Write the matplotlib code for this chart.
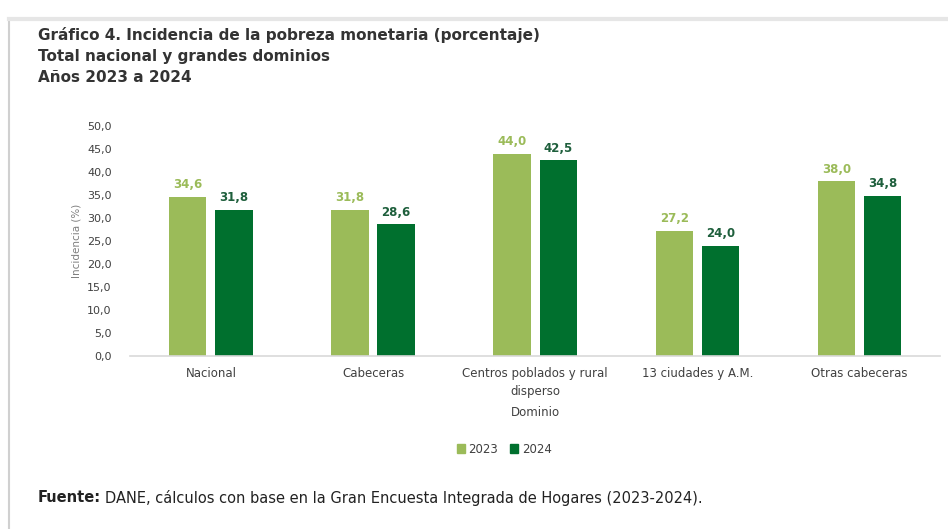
import numpy as np
import matplotlib
matplotlib.use("Agg")
import matplotlib.pyplot as plt
from matplotlib.lines import Line2D
from matplotlib.patches import Patch

dominios = ["Nacional", "Cabeceras", "Centros poblados y rural\ndisperso",
            "13 ciudades y A.M.", "Otras cabeceras"]
v2023 = [34.6, 31.8, 44.0, 27.2, 38.0]
v2024 = [31.8, 28.6, 42.5, 24.0, 34.8]
yticks = np.arange(0, 51, 5)

c23 = "#9BBB59"
c24 = "#00702E"
txt = "#404040"

plt.rcParams["font.family"] = ["DejaVu Sans"]

fig = plt.figure(figsize=(9.48, 5.29), dpi=100)
ax = fig.add_axes([0.137, 0.327, 0.855, 0.435])

x = np.arange(len(dominios))
w = 0.23
gap = 0.055
b1 = ax.bar(x - (w + gap) / 2, v2023, w, color=c23, label="2023")
b2 = ax.bar(x + (w + gap) / 2, v2024, w, color=c24, label="2024")

for r, v in zip(b1, v2023):
    ax.text(r.get_x() + r.get_width() / 2, v + 1.2, f"{v:.1f}".replace(".", ","),
            ha="center", va="bottom", fontsize=8.5, fontweight="bold", color=c23)
for r, v in zip(b2, v2024):
    ax.text(r.get_x() + r.get_width() / 2, v + 1.2, f"{v:.1f}".replace(".", ","),
            ha="center", va="bottom", fontsize=8.5, fontweight="bold", color="#1E5F3C")

ax.set_xlim(-0.5, len(dominios) - 0.5)
ax.set_ylim(0, 50)
ax.set_yticks(yticks)
ax.set_yticklabels([f"{t:.1f}".replace(".", ",") for t in yticks], fontsize=8, color=txt)
ax.set_xticks(x)
ax.set_xticklabels(dominios, fontsize=8.5, color=txt, linespacing=1.45)
ax.tick_params(axis="x", length=0, pad=8)
ax.tick_params(axis="y", length=0, pad=13)
for s in ["top", "right", "left"]:
    ax.spines[s].set_visible(False)
ax.spines["bottom"].set_color("#D9D9D9")
ax.spines["bottom"].set_linewidth(1.2)
ax.set_ylabel("Incidencia (%)", fontsize=7.5, color="#7F7F7F", labelpad=4)
ax.set_xlabel("Dominio", fontsize=8.5, color=txt, labelpad=6)

leg = fig.legend(handles=[Patch(color=c23, label="2023"), Patch(color=c24, label="2024")],
                 loc="center", bbox_to_anchor=(0.532, 0.151), ncol=2, frameon=False,
                 fontsize=8.5, handlelength=0.7, handleheight=0.7, handletextpad=0.3,
                 columnspacing=1.0)
for t in leg.get_texts():
    t.set_color(txt)

fig.text(0.040, 0.934, "Gráfico 4. Incidencia de la pobreza monetaria (porcentaje)",
         fontsize=11, fontweight="bold", color="#333333", va="center")
fig.text(0.040, 0.894, "Total nacional y grandes dominios",
         fontsize=11, fontweight="bold", color="#333333", va="center")
fig.text(0.040, 0.853, "Años 2023 a 2024",
         fontsize=11, fontweight="bold", color="#333333", va="center")

ft = fig.text(0.040, 0.059, "Fuente:", fontsize=10.5, fontweight="bold", color="#222222", va="center")
fig.canvas.draw()
bb = ft.get_window_extent()
fig.text(bb.x1 / fig.bbox.width + 0.004, 0.059,
         "DANE, cálculos con base en la Gran Encuesta Integrada de Hogares (2023-2024).",
         fontsize=10.5, color="#222222", va="center")

# card border
fig.add_artist(Line2D([0.009, 0.009], [0.0, 0.965], color="#D0D0D0", lw=1.5))
fig.add_artist(Line2D([0.009, 1.0], [0.965, 0.965], color="#E6E6E6", lw=3))

fig.savefig("out.png", dpi=100)
